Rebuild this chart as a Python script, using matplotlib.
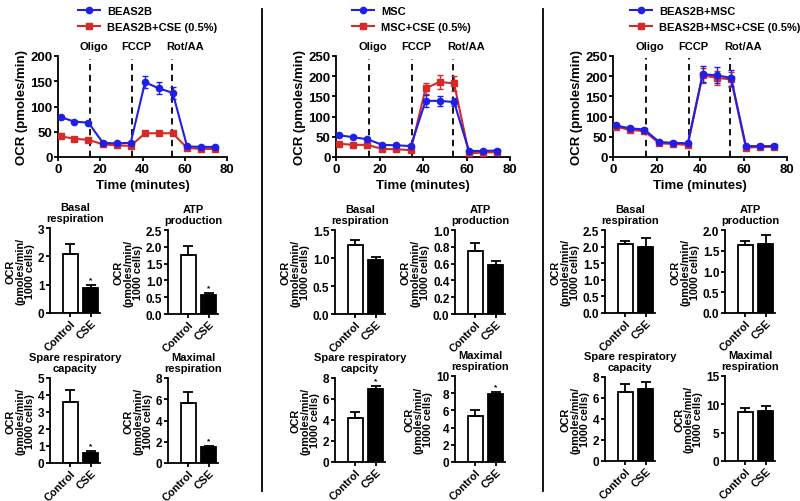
import matplotlib
matplotlib.use('Agg')
import matplotlib.pyplot as plt
from matplotlib.lines import Line2D
import numpy as np

plt.rcParams['font.family'] = ['Liberation Sans', 'DejaVu Sans']
plt.rcParams['font.weight'] = 'bold'
plt.rcParams['axes.labelweight'] = 'bold'
plt.rcParams['axes.linewidth'] = 1.3
plt.rcParams['xtick.major.width'] = 1.3
plt.rcParams['ytick.major.width'] = 1.3
plt.rcParams['xtick.major.size'] = 3
plt.rcParams['ytick.major.size'] = 3

W, H = 800, 502
BLUE = '#1f1fe6'
RED = '#d42a2a'

# ---- Seahorse time course data ----
time = [1.3, 7.8, 14.4, 21.3, 27.8, 34.4, 41.2, 47.7, 54.3, 61.1, 67.6, 74.2]
injections = [15, 35, 54]
inj_names = ['Oligo', 'FCCP', 'Rot/AA']

beas_names = ['BEAS2B', 'BEAS2B+CSE (0.5%)']
beas_ctrl = [79, 70, 68, 28, 27, 28, 148, 136, 127, 21, 20, 20]
beas_ctrl_err = [3, 2, 2, 2, 2, 2, 12, 12, 12, 2, 2, 2]
beas_cse = [41, 36, 34, 25, 23, 22, 47, 47, 47, 18, 16, 16]
beas_cse_err = [2, 2, 2, 2, 2, 2, 2, 2, 2, 2, 2, 2]

msc_names = ['MSC', 'MSC+CSE (0.5%)']
msc_ctrl = [54, 49, 44, 30, 29, 27, 139, 139, 136, 15, 15, 16]
msc_ctrl_err = [2, 2, 2, 2, 2, 2, 15, 12, 10, 2, 2, 2]
msc_cse = [33, 30, 30, 20, 19, 17, 170, 186, 182, 9, 11, 12]
msc_cse_err = [2, 2, 2, 2, 2, 2, 14, 17, 18, 2, 2, 2]

co_names = ['BEAS2B+MSC', 'BEAS2B+MSC+CSE (0.5%)']
co_ctrl = [78, 71, 68, 37, 35, 34, 205, 202, 196, 27, 27, 27]
co_ctrl_err = [3, 3, 3, 3, 3, 3, 20, 20, 20, 2, 2, 2]
co_cse = [75, 67, 64, 34, 32, 30, 202, 196, 192, 23, 25, 25]
co_cse_err = [3, 3, 3, 3, 3, 3, 18, 18, 18, 2, 2, 2]

# ---- bar chart data: (Control, CSE) mean and SEM ----
bar_labels = ['Control', 'CSE']
titles = ['Basal\nrespiration', 'ATP\nproduction', 'Spare respiratory\ncapacity', 'Maximal\nrespiration']
titles_b = ['Basal\nrespiration', 'ATP\nproduction', 'Spare respiratory\ncapcity', 'Maximal\nrespiration']

beas_bars = [[2.1, 0.9], [1.77, 0.58], [3.58, 0.6], [5.65, 1.5]]
beas_bars_err = [[0.32, 0.08], [0.26, 0.04], [0.69, 0.12], [1.0, 0.12]]
beas_stars = [[False, True], [False, True], [False, True], [False, True]]

msc_bars = [[1.23, 0.96], [0.75, 0.58], [4.2, 6.95], [5.35, 7.85]]
msc_bars_err = [[0.1, 0.05], [0.09, 0.05], [0.6, 0.3], [0.7, 0.3]]
msc_stars = [[False, False], [False, False], [False, True], [False, True]]

co_bars = [[2.07, 1.98], [1.64, 1.67], [6.6, 6.85], [8.6, 8.75]]
co_bars_err = [[0.1, 0.27], [0.09, 0.2], [0.75, 0.65], [0.8, 0.95]]
co_stars = [[False, False], [False, False], [False, False], [False, False]]

beas_ticks = [[0, 1, 2, 3], [0.0, 0.5, 1.0, 1.5, 2.0, 2.5], [0, 1, 2, 3, 4, 5], [0, 2, 4, 6, 8]]
msc_ticks = [[0.0, 0.5, 1.0, 1.5], [0.0, 0.2, 0.4, 0.6, 0.8, 1.0], [0, 2, 4, 6, 8], [0, 2, 4, 6, 8, 10]]
co_ticks = [[0.0, 0.5, 1.0, 1.5, 2.0, 2.5], [0.0, 0.5, 1.0, 1.5, 2.0], [0, 2, 4, 6, 8], [0, 5, 10, 15]]

fig = plt.figure(figsize=(W / 100, H / 100), dpi=100)


def add_ax(left, top, right, bottom):
    return fig.add_axes([left / W, 1 - bottom / H, (right - left) / W, (bottom - top) / H])


def style(ax):
    ax.spines['top'].set_visible(False)
    ax.spines['right'].set_visible(False)


def fmt_tick(v, decimals):
    return ('%.' + str(decimals) + 'f') % v


def line_panel(box, ctrl, ctrl_err, cse, cse_err, names, ymax, yticks, leg_xy, dash_top):
    ax = add_ax(*box)
    style(ax)
    ax.errorbar(time, cse, yerr=cse_err, color=RED, marker='s', markersize=4.5,
                linewidth=1.5, capsize=2.5, elinewidth=1, zorder=3)
    ax.errorbar(time, ctrl, yerr=ctrl_err, color=BLUE, marker='o', markersize=4.5,
                linewidth=1.5, capsize=2.5, elinewidth=1, zorder=4)
    for x in injections:
        ax.plot([x, x], [0, dash_top], color='black', linestyle=(0, (3.5, 2.5)),
                linewidth=1.3, zorder=2, clip_on=False)
    offs = [1.8, 2.0, 6.0]
    for x, name, o in zip(injections, inj_names, offs):
        ax.text(x + o, ymax * 1.05, name, ha='center', va='bottom', fontsize=8)
    ax.set_xlim(0, 80)
    ax.set_ylim(0, ymax)
    ax.set_xticks([0, 20, 40, 60, 80])
    ax.set_yticks(yticks)
    ax.tick_params(labelsize=9.5, pad=1)
    ax.set_xlabel('Time (minutes)', fontsize=9.5, labelpad=3)
    ax.set_ylabel('OCR (pmoles/min)', fontsize=9.5, labelpad=2)
    handles = [Line2D([], [], color=BLUE, marker='o', markersize=4.5, linewidth=1.5),
               Line2D([], [], color=RED, marker='s', markersize=4.5, linewidth=1.5)]
    fig.legend(handles, names, loc='upper left', bbox_to_anchor=(leg_xy[0] / W, 1 - leg_xy[1] / H),
               frameon=False, fontsize=8, handlelength=2.0, handletextpad=0.6,
               labelspacing=0.55, borderpad=0, borderaxespad=0)
    return ax


def bar_panel(box, vals, errs, stars, title, yticks, dec):
    ax = add_ax(*box)
    style(ax)
    x = np.arange(2)
    colors = ['white', 'black']
    for i in range(2):
        ax.bar(x[i], vals[i], width=0.75, color=colors[i], edgecolor='black', linewidth=1.3, zorder=2)
        ax.errorbar(x[i], vals[i], yerr=[[0], [errs[i]]], color='black', capsize=3.5,
                    elinewidth=1.3, capthick=1.3, zorder=3)
        if stars[i]:
            ax.text(x[i], vals[i] + errs[i] + yticks[-1] * 0.02, '*', ha='center', va='bottom', fontsize=6)
    ax.set_xlim(-1.0, 1.45)
    ax.set_ylim(0, yticks[-1])
    ax.set_yticks(yticks)
    ax.set_yticklabels([fmt_tick(t, dec) for t in yticks])
    ax.set_xticks(x)
    ax.set_xticklabels(bar_labels, rotation=45, ha='right', rotation_mode='anchor')
    ax.tick_params(axis='y', labelsize=8.5, pad=1)
    ax.tick_params(axis='x', labelsize=7.8, pad=0.5, length=3)
    ax.set_title(title, fontsize=8, fontweight='bold', pad=5, linespacing=1.1)
    ax.set_ylabel('OCR\n(pmoles/min/\n1000 cells)', fontsize=7.8, labelpad=2, linespacing=0.95)
    return ax


line_panel((58, 57, 227, 158), beas_ctrl, beas_ctrl_err, beas_cse, beas_cse_err, beas_names,
           200, [0, 50, 100, 150, 200], (78, 7), 195)
line_panel((336, 57, 510, 158), msc_ctrl, msc_ctrl_err, msc_cse, msc_cse_err, msc_names,
           250, [0, 50, 100, 150, 200, 250], (352, 7), 242)
line_panel((613, 57, 787, 158), co_ctrl, co_ctrl_err, co_cse, co_cse_err, co_names,
           250, [0, 50, 100, 150, 200, 250], (630, 7), 244)

bar_boxes = [
    [(50, 229, 100, 314), (168, 231, 218, 315), (50, 379, 100, 464), (168, 379, 218, 464)],
    [(335, 231, 385, 315), (455, 231, 505, 315), (335, 379, 385, 463), (455, 377, 505, 463)],
    [(605, 231, 655, 314), (725, 231, 775, 314), (605, 378, 655, 462), (725, 377, 775, 462)],
]
groups = [
    (beas_bars, beas_bars_err, beas_stars, beas_ticks, titles, [0, 1, 0, 0]),
    (msc_bars, msc_bars_err, msc_stars, msc_ticks, titles_b, [1, 1, 0, 0]),
    (co_bars, co_bars_err, co_stars, co_ticks, titles, [1, 1, 0, 0]),
]
for boxes, (vals, errs, stars, ticks, tts, decs) in zip(bar_boxes, groups):
    for k in range(4):
        bar_panel(boxes[k], vals[k], errs[k], stars[k], tts[k], ticks[k], decs[k])

# separators between the three panels
for xs in [262, 543]:
    fig.add_artist(Line2D([xs / W, xs / W], [1 - 10 / H, 1 - 492 / H], color='black', linewidth=1.3))

fig.savefig('out.png', dpi=100, facecolor='white')
